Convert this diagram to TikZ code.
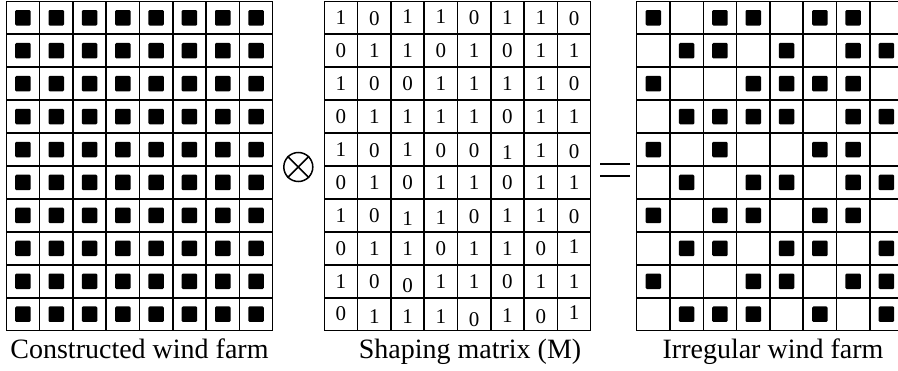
\documentclass[tikz,border=0pt]{standalone}
\usepackage{fontspec}
\setmainfont{Liberation Serif}
\begin{document}
\begin{tikzpicture}[x=1pt,y=-1pt,
  gridline/.style={line width=1.5pt, line cap=rect},
  turbine/.style={fill=black, minimum size=15.5pt, inner sep=0pt, rounded corners=1.2pt},
  entry/.style={font=\fontsize{21}{21}\selectfont, inner sep=0pt},
  caption/.style={font=\fontsize{28}{28}\selectfont, anchor=base, inner sep=0pt},
  operator/.style={line width=1.5pt}]
\useasboundingbox (0,0) rectangle (898,370);
% cell size and top edge shared by the three grids
\def\cw{33.3}\def\ch{32.94}\def\gy{1.3}
% left edges of the three grids
\def\xa{6.3}\def\xm{324.3}\def\xb{636.7}
% shaping matrix: value/vertical nudge of each printed digit
\def\shaping{%
  {1/0,0/1,1/-1,1/-1,0/0,1/0,1/0,0/1},
  {0/0,1/0,1/0,0/0,1/0,0/0,1/0,1/0},
  {1/0,0/0,0/0,1/0,1/0,1/0,1/0,0/0},
  {0/0,1/0,1/0,1/0,1/0,0/0,1/0,1/0},
  {1/0,0/1,1/0,0/1,0/1,1/3,1/1,0/2},
  {0/0,1/0,0/0,1/0,1/0,0/0,1/0,1/0},
  {1/0,0/0,1/3,1/2,0/1,1/0,1/0,0/1},
  {0/0,1/0,1/0,0/0,1/0,1/0,0/0,1/-2},
  {1/0,0/0,0/4,1/0,1/0,0/0,1/0,1/0},
  {0/-1,1/2,1/2,1/2,0/5,1/1,0/2,1/-2}}

% grid lines of the three 8x10 tables
\foreach \x in {\xa,\xm,\xb}{
  \foreach \i in {0,...,8}
    \draw[gridline] ({\x+\i*\cw},\gy) -- ({\x+\i*\cw},{\gy+10*\ch});
  \foreach \j in {0,...,10}
    \draw[gridline] (\x,{\gy+\j*\ch}) -- ({\x+8*\cw},{\gy+\j*\ch});
}

% constructed wind farm: a turbine in every cell
\foreach \r in {1,...,10}
  \foreach \c in {1,...,8}
    \node[turbine] (full-\r-\c) at ({\xa+(\c-0.5)*\cw},{\gy+(\r-0.5)*\ch}) {};

% shaping matrix entries and the irregular farm they select
\foreach \row [count=\r] in \shaping {
  \foreach \v/\dy [count=\c] in \row {
    \node[entry] (m-\r-\c) at ({\xm+(\c-0.5)*\cw},{\gy+(\r-0.5)*\ch+\dy}) {\v};
    \ifnum\v=1
      \node[turbine] (irr-\r-\c) at ({\xb+(\c-0.5)*\cw},{\gy+(\r-0.5)*\ch}) {};
    \fi
  }
}

% operators between the tables
\node[circle, draw, operator, minimum size=29pt, inner sep=0pt] (times) at (298.3,167) {};
\draw[operator] (times.45) -- (times.225);
\draw[operator] (times.135) -- (times.315);
\node[minimum width=29.3pt, minimum height=12pt, inner sep=0pt] (equals) at (615.3,170) {};
\draw[operator] (equals.north west) -- (equals.north east);
\draw[operator] (equals.south west) -- (equals.south east);

% captions
\node[caption] (capA) at (139.5,358.5) {Constructed wind farm};
\node[caption] (capM) at (470,358.5) {Shaping matrix (M)};
\node[caption] (capB) at (773,358.5) {Irregular wind farm};
\end{tikzpicture}
\end{document}
